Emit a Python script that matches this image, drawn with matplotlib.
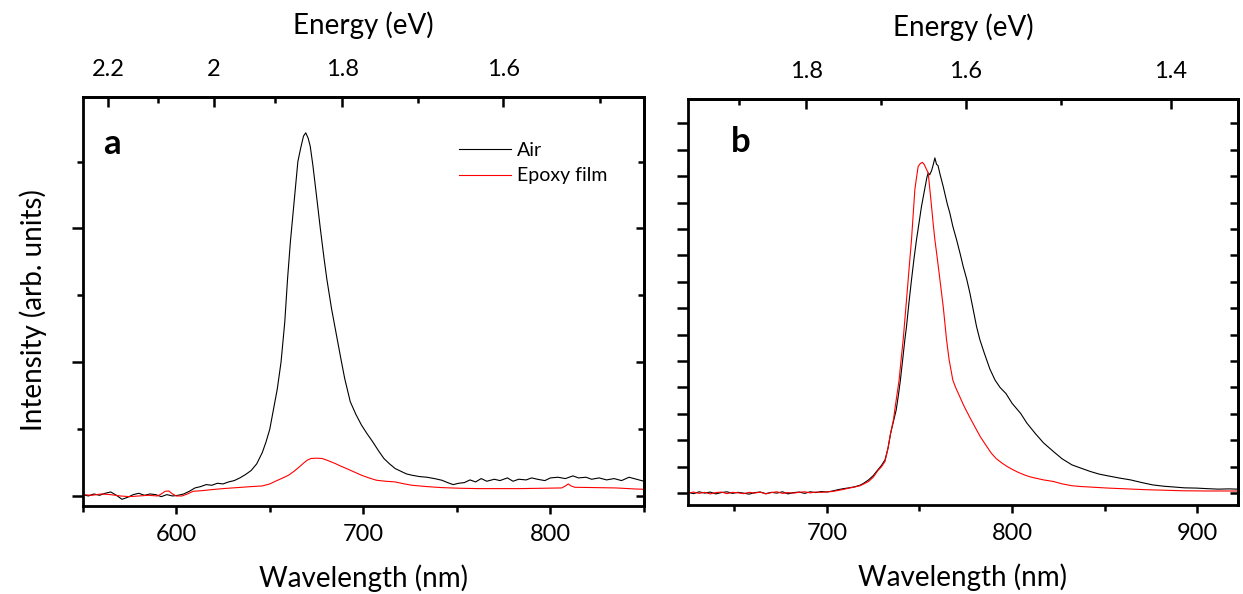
import numpy as np
import matplotlib
matplotlib.use("Agg")
import matplotlib.pyplot as plt
from matplotlib.ticker import FixedLocator, NullFormatter, FuncFormatter

HC = 1239.84  # eV*nm, wavelength <-> energy

# ---- panel a: spectra (arb. units, 1 = one y tick) ----
a_air_wl = [550, 553, 556, 559, 562, 565, 568, 571, 574, 577, 580, 583, 586, 589, 592, 595, 598,
            601, 604, 607, 610, 613, 616, 619, 622, 625, 628, 631, 634, 637, 640, 643, 646, 648,
            650, 652, 654, 656, 658, 659.5, 661, 662, 663.5, 665, 666.5, 668, 669.2, 670.5, 671.6,
            673, 675, 677, 679, 680.5, 683, 686, 688, 690, 693, 696, 699, 702, 705, 708, 711, 714,
            717, 720, 723, 726, 730, 734, 738, 742, 745, 748, 751, 754, 757, 760, 763, 766, 770,
            773, 777, 780, 783, 787, 790, 793, 797, 800, 804, 808, 812, 815, 819, 822, 826, 830,
            834, 838, 842, 846, 850]
a_air_int = [0.02, 0.00, 0.03, 0.01, 0.04, 0.06, 0.01, -0.05, -0.02, 0.02, 0.04, 0.01, 0.03, 0.02,
             -0.01, 0.02, 0.00, 0.01, 0.03, 0.07, 0.12, 0.14, 0.17, 0.16, 0.19, 0.18, 0.21, 0.23,
             0.27, 0.32, 0.38, 0.48, 0.65, 0.81, 1.0, 1.3, 1.6, 2.0, 2.6, 3.25, 3.8, 4.1, 4.55,
             5.0, 5.2, 5.38, 5.43, 5.35, 5.23, 4.95, 4.48, 4.0, 3.55, 3.24, 2.8, 2.35, 2.05, 1.76,
             1.41, 1.22, 1.06, 0.93, 0.81, 0.68, 0.56, 0.48, 0.41, 0.37, 0.33, 0.31, 0.29, 0.28,
             0.26, 0.235, 0.2, 0.17, 0.19, 0.2, 0.24, 0.21, 0.26, 0.22, 0.25, 0.23, 0.27, 0.22,
             0.25, 0.24, 0.27, 0.25, 0.23, 0.27, 0.28, 0.26, 0.3, 0.27, 0.28, 0.25, 0.27, 0.24,
             0.26, 0.23, 0.28, 0.25, 0.22]

a_epo_wl = [550, 555, 560, 565, 570, 575, 580, 585, 590, 592, 594, 596, 598, 600, 603, 606, 609,
            614, 619, 625, 630, 635, 640, 646, 650, 653, 657, 660, 663, 666, 668, 670, 672, 675,
            678, 681, 685, 688, 691, 695, 699, 703, 707, 712, 717, 722, 726, 734, 742, 752, 762,
            772, 783, 795, 806, 808, 809.5, 811, 813, 824, 835, 845, 850]
a_epo_int = [0.02, 0.01, 0.03, 0.02, 0.0, -0.01, 0.0, 0.01, 0.0, 0.03, 0.07, 0.075, 0.03, 0.0,
             0.0, 0.03, 0.07, 0.08, 0.095, 0.11, 0.12, 0.13, 0.14, 0.15, 0.18, 0.22, 0.27, 0.31,
             0.37, 0.44, 0.49, 0.535, 0.56, 0.565, 0.56, 0.53, 0.485, 0.445, 0.41, 0.36, 0.31,
             0.27, 0.235, 0.22, 0.21, 0.18, 0.16, 0.14, 0.125, 0.115, 0.11, 0.11, 0.11, 0.115,
             0.12, 0.15, 0.18, 0.15, 0.13, 0.125, 0.12, 0.105, 0.1]

# ---- panel b ----
b_air_wl = [625, 628, 631, 634, 637, 640, 643, 646, 649, 652, 655, 658, 661, 664, 667, 670, 673,
            676, 679, 682, 685, 688, 691, 694, 697, 700, 703, 706, 709, 712, 715, 718, 720, 722.5,
            725, 727.5, 729.5, 731.4, 733, 734.4, 735.9, 737.4, 738.6, 739.7, 741, 742.1, 743,
            744.3, 745.7, 747, 748.4, 749.8, 751.1, 752.8, 754, 754.7, 755.5, 756.5, 757.5, 758.3,
            759.2, 760, 761, 762.8, 764, 765, 766.4, 768, 770, 772, 773.6, 775.5, 777.2, 779,
            780.8, 782.6, 785, 788, 790.8, 793.5, 796.7, 800, 804.6, 808, 812.5, 817, 822.4, 827,
            832.3, 837, 842.2, 847, 852, 858, 864, 870, 876, 882, 887.7, 893, 899.6, 905, 911.4,
            917, 922]
b_air_int = [0.03, -0.02, 0.05, 0.0, 0.04, -0.03, 0.02, 0.05, -0.01, 0.03, 0.0, -0.04, 0.02,
             0.04, -0.02, 0.03, 0.0, 0.05, -0.03, 0.02, 0.04, -0.01, 0.05, 0.02, 0.06, 0.04, 0.08,
             0.13, 0.17, 0.2, 0.24, 0.3, 0.38, 0.5, 0.66, 0.88, 1.05, 1.26, 1.7, 2.26, 2.7, 3.14,
             3.7, 4.28, 5.1, 5.81, 6.31, 7.2, 8.08, 8.85, 9.6, 10.25, 10.86, 11.5, 11.95, 12.12,
             12.05, 12.2, 12.45, 12.69, 12.45, 12.4, 12.1, 11.61, 11.25, 10.95, 10.6, 10.1, 9.6,
             9.05, 8.58, 8.1, 7.58, 6.95, 6.31, 5.81, 5.3, 4.7, 4.28, 4.0, 3.77, 3.4, 3.02, 2.65,
             2.26, 1.9, 1.57, 1.3, 1.07, 0.95, 0.82, 0.72, 0.65, 0.57, 0.5, 0.4, 0.31, 0.26, 0.23,
             0.2, 0.19, 0.17, 0.15, 0.16, 0.15]

b_epo_wl = [625, 628, 631, 634, 637, 640, 643, 646, 649, 652, 655, 658, 661, 664, 667, 670, 673,
            676, 679, 682, 685, 688, 691, 694, 697, 700, 703, 706, 709, 712, 715, 718, 720, 722.5,
            725, 727.5, 729.5, 731.4, 733, 734.4, 736, 736.9, 738, 739, 740, 741.2, 742.5, 743.9,
            744.8, 745.7, 746.6, 747.5, 748.4, 749.3, 750.5, 751.6, 752.5, 753.5, 754.7, 755.6,
            756.5, 757.4, 758.3, 759.5, 760.6, 761.7, 762.8, 763.7, 764.6, 766, 768, 769.5, 771,
            774, 777, 780, 782.8, 786, 788.8, 791.5, 794.7, 797.5, 800.6, 803.5, 806.6, 809.5,
            812.5, 817, 822.4, 827, 832.3, 837, 842.2, 847, 852, 862, 871.8, 882, 891.6, 905, 922]
b_epo_int = [0.0, 0.04, -0.01, 0.03, -0.03, 0.02, 0.04, -0.02, 0.03, 0.01, -0.02, 0.03, 0.0,
             0.04, -0.03, 0.02, 0.05, -0.01, 0.02, 0.0, 0.03, 0.05, 0.01, 0.04, 0.03, 0.05, 0.06,
             0.1, 0.14, 0.19, 0.23, 0.28, 0.35, 0.44, 0.6, 0.85, 1.0, 1.2, 1.7, 2.26, 2.8, 3.27,
             3.8, 4.28, 5.0, 5.81, 6.9, 8.08, 8.85, 9.6, 10.55, 11.49, 11.95, 12.37, 12.48, 12.52,
             12.45, 12.3, 12.12, 11.5, 10.86, 10.2, 9.6, 8.95, 8.33, 7.7, 7.07, 6.45, 5.81, 5.05,
             4.28, 4.0, 3.77, 3.3, 2.89, 2.5, 2.14, 1.8, 1.51, 1.3, 1.13, 1.0, 0.88, 0.78, 0.69,
             0.62, 0.57, 0.5, 0.44, 0.35, 0.28, 0.25, 0.23, 0.21, 0.19, 0.16, 0.13, 0.11, 0.09,
             0.08, 0.08]

labels = ["Air", "Epoxy film"]
colors = ["black", "#ff0000"]

plt.rcParams["font.family"] = ["Lato", "DejaVu Sans"]

W, H = 1243, 594
fig = plt.figure(figsize=(W / 100, H / 100), dpi=100)
ax_a = fig.add_axes([82.7 / W, 1 - 506 / H, (644 - 82.7) / W, (506 - 96.7) / H])
ax_b = fig.add_axes([688 / W, 1 - 505 / H, (1238 - 688) / W, (505 - 99) / H])


def to_ev(x):
    x = np.asarray(x, dtype=float)
    with np.errstate(divide="ignore"):
        return HC / x


def style(ax, xlim, ylim, xmaj, xmin, ymaj, ymin, emaj, emin):
    ax.set_xlim(*xlim)
    ax.set_ylim(*ylim)
    for s in ax.spines.values():
        s.set_linewidth(2)
    ax.xaxis.set_major_locator(FixedLocator(xmaj))
    ax.xaxis.set_minor_locator(FixedLocator(xmin))
    ax.yaxis.set_major_locator(FixedLocator(ymaj))
    ax.yaxis.set_minor_locator(FixedLocator(ymin))
    ax.yaxis.set_major_formatter(NullFormatter())
    ax.tick_params(axis="x", which="major", direction="out", length=6, width=1.8,
                  labelsize=17, pad=7)
    ax.tick_params(axis="x", which="minor", direction="out", length=4, width=1.8)
    ax.tick_params(axis="y", which="major", direction="out", length=8, width=1.8)
    ax.tick_params(axis="y", which="minor", direction="out", length=4, width=1.8)
    ax.set_xlabel("Wavelength (nm)", fontsize=20, labelpad=14)

    # mirrored right axis, ticks pointing in
    r = ax.secondary_yaxis("right")
    r.yaxis.set_major_locator(FixedLocator(ymaj))
    r.yaxis.set_minor_locator(FixedLocator(ymin))
    r.yaxis.set_major_formatter(NullFormatter())
    r.tick_params(axis="y", which="major", direction="in", length=6, width=1.8)
    r.tick_params(axis="y", which="minor", direction="in", length=4, width=1.8)
    r.spines["right"].set_linewidth(2)

    # energy scale on top
    t = ax.secondary_xaxis("top", functions=(to_ev, to_ev))
    t.xaxis.set_major_locator(FixedLocator(emaj))
    t.xaxis.set_minor_locator(FixedLocator(emin))
    t.xaxis.set_major_formatter(FuncFormatter(lambda v, p: f"{v:g}"))
    t.tick_params(axis="x", which="major", direction="in", length=7, width=1.8,
                  labelsize=17, pad=12)
    t.tick_params(axis="x", which="minor", direction="in", length=4, width=1.8)
    t.spines["top"].set_linewidth(2)
    t.set_xlabel("Energy (eV)", fontsize=20, labelpad=18)


for wl, val, lab, c in [(a_air_wl, a_air_int, labels[0], colors[0]),
                        (a_epo_wl, a_epo_int, labels[1], colors[1])]:
    ax_a.plot(wl, val, color=c, lw=0.8, label=lab)
style(ax_a, (550, 850), (-0.15, 5.97), [600, 700, 800], [550, 650, 750, 850],
      [0, 2, 4], [1, 3, 5], [2.2, 2.0, 1.8, 1.6], [2.1, 1.9, 1.7, 1.5])
ax_a.legend(loc="upper left", bbox_to_anchor=(0.67, 0.89), frameon=False, fontsize=14,
            handlelength=2.7, handletextpad=0.3, labelspacing=0.45, borderpad=0,
            borderaxespad=0)
ax_a.text(0.052, 0.884, "a", transform=ax_a.transAxes, fontsize=25, fontweight="bold",
          ha="center", va="center")

for wl, val, c in [(b_air_wl, b_air_int, colors[0]), (b_epo_wl, b_epo_int, colors[1])]:
    ax_b.plot(wl, val, color=c, lw=0.8)
style(ax_b, (625, 922), (-0.45, 14.92), [700, 800, 900], [650, 750, 850],
      list(range(0, 15)), [], [1.8, 1.6, 1.4], [1.9, 1.7, 1.5])
ax_b.text(0.096, 0.895, "b", transform=ax_b.transAxes, fontsize=25, fontweight="bold",
          ha="center", va="center")

fig.text(33 / W, 1 - 310 / H, "Intensity (arb. units)", rotation=90, fontsize=20,
         ha="center", va="center")

fig.savefig("out.png", dpi=100)
